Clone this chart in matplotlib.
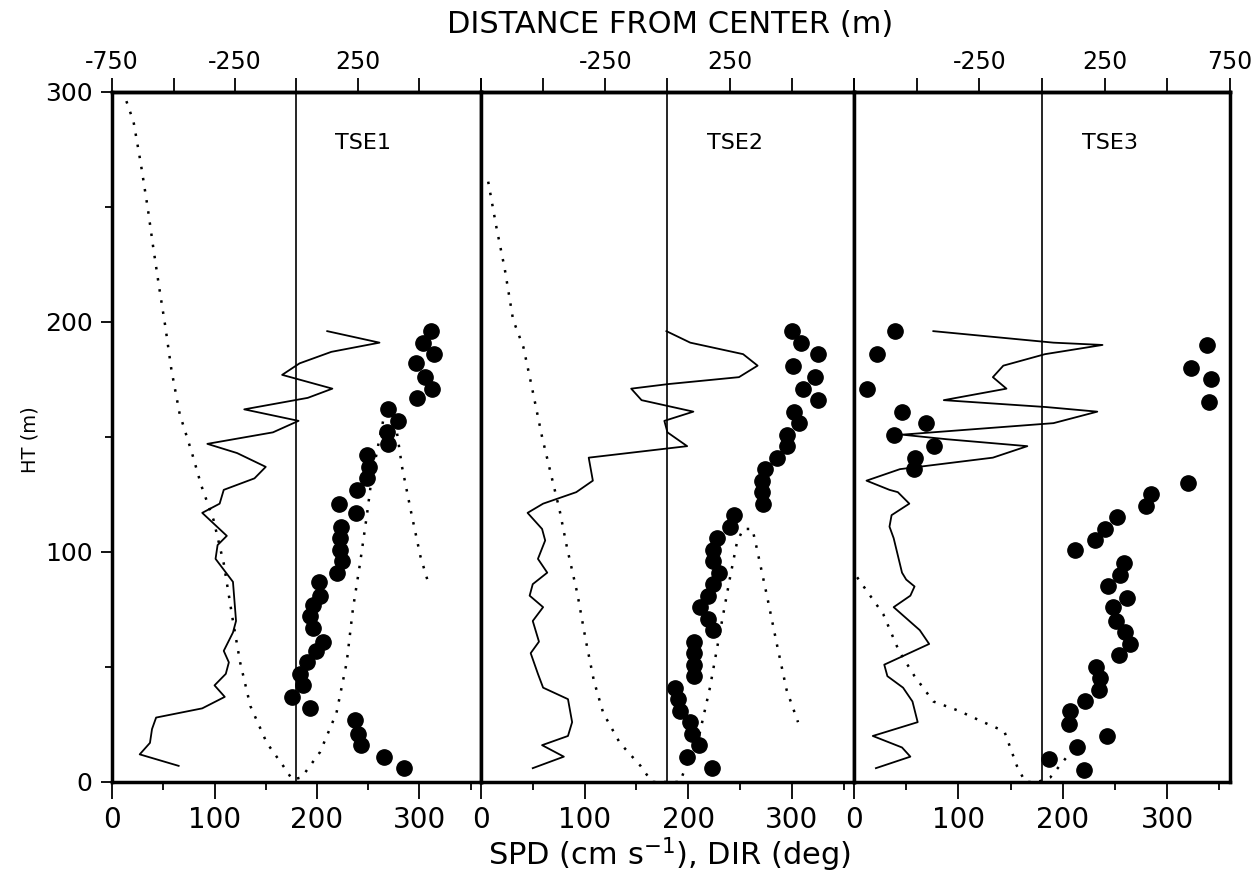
import numpy as np
import matplotlib
matplotlib.use("Agg")
import matplotlib.pyplot as plt

plt.rcParams['font.family'] = ['DejaVu Sans']

# TSE1
tse1_line_x = [210, 261, 214, 183, 166, 215, 191, 129, 182, 157, 93, 122, 150, 139, 109, 105, 88, 112,
               103, 101, 118, 121, 118, 109, 114, 111, 100, 110, 88, 43, 39, 37, 27, 65]
tse1_line_h = [196, 191, 187, 182, 177, 171, 167, 162, 157, 152, 147, 143, 137, 132, 127, 121, 117, 107,
               103, 97, 87, 70, 65, 57, 52, 47, 42, 37, 32, 28, 23, 17, 12, 7]
tse1_dot_x = [311, 303, 314, 297, 305, 312, 298, 269, 279, 268, 269, 249, 251, 249, 239, 221, 238, 223,
              222, 222, 224, 220, 202, 203, 196, 193, 196, 206, 199, 190, 183, 186, 176, 193, 237, 240,
              243, 265, 285]
tse1_dot_h = [196, 191, 186, 182, 176, 171, 167, 162, 157, 152, 147, 142, 137, 132, 127, 121, 117, 111,
              106, 101, 96, 91, 87, 81, 77, 72, 67, 61, 57, 52, 47, 42, 37, 32, 27, 21, 16, 11, 6]
tse1_curve_x = [14, 21, 28, 35, 40, 46, 52, 58, 66, 78, 87, 99, 109, 118, 125, 135, 151, 167, 176, 185,
                203, 219, 229, 235, 242, 249, 253, 260, 265, 270, 278, 283, 292, 301, 309]
tse1_curve_h = [296, 287, 269, 249, 233, 215, 198, 179, 160, 143, 129, 114, 95, 70, 52, 33, 17, 7, 1, 2,
                13, 30, 52, 75, 95, 117, 131, 147, 158, 160, 152, 137, 117, 98, 86]

# TSE2
tse2_line_x = [179, 202, 253, 267, 249, 181, 145, 155, 205, 177, 180, 199, 104, 108, 92, 60, 45, 59, 62,
               55, 64, 50, 47, 60, 50, 56, 48, 55, 60, 84, 88, 84, 59, 80, 50]
tse2_line_h = [196, 191, 186, 181, 176, 173, 171, 166, 161, 157, 152, 146, 141, 131, 126, 121, 117, 110,
               105, 97, 91, 86, 81, 76, 70, 61, 56, 47, 41, 36, 26, 20, 16, 11, 6]
tse2_dot_x = [300, 309, 325, 301, 322, 311, 325, 302, 307, 295, 295, 286, 274, 271, 271, 272, 244, 240,
              228, 224, 224, 230, 224, 219, 211, 219, 224, 206, 206, 206, 206, 187, 190, 192, 202, 204,
              210, 199, 223]
tse2_dot_h = [196, 191, 186, 181, 176, 171, 166, 161, 156, 151, 146, 141, 136, 131, 126, 121, 116, 111,
              106, 101, 96, 91, 86, 81, 76, 71, 66, 61, 56, 51, 46, 41, 36, 31, 26, 21, 16, 11, 6]
tse2_curve_x = [7, 15, 23, 31, 41, 49, 59, 68, 76, 83, 93, 101, 109, 118, 134, 154, 165, 175, 192, 199,
                211, 221, 231, 240, 247, 253, 262, 266, 276, 286, 295, 306]
tse2_curve_h = [261, 241, 223, 201, 189, 172, 150, 133, 118, 102, 82, 62, 44, 30, 17, 7, 0, 0, 0, 8,
                21, 41, 66, 88, 104, 110, 110, 102, 81, 59, 40, 26]

# TSE3
tse3_line_x = [76, 191, 238, 183, 143, 133, 146, 86, 184, 233, 191, 46, 89, 166, 133, 44, 12, 34, 42, 53,
               36, 34, 38, 46, 50, 58, 54, 38, 63, 72, 29, 32, 47, 56, 61, 18, 46, 54, 21]
tse3_line_h = [196, 191, 190, 186, 181, 176, 171, 166, 163, 161, 156, 151, 149, 146, 141, 136, 131, 127,
               126, 121, 116, 111, 106, 91, 88, 85, 81, 76, 66, 60, 51, 46, 41, 35, 26, 20, 15, 11, 6]
tse3_dot_x = [39, 22, 12, 46, 69, 38, 77, 58, 57,
              338, 323, 342, 340, 320, 284, 280, 252, 240, 231, 212, 259, 255, 243, 261, 248, 251, 260,
              264, 254, 232, 236, 235, 221, 207, 206, 242, 214, 187, 220]
tse3_dot_h = [196, 186, 171, 161, 156, 151, 146, 141, 136,
              190, 180, 175, 165, 130, 125, 120, 115, 110, 105, 101, 95, 90, 85, 80, 76, 70, 65, 60, 55,
              50, 45, 40, 35, 31, 25, 20, 15, 10, 5]
tse3_curve_x = [3, 28, 43, 58, 76, 100, 124, 144, 148, 156, 164, 176, 188, 204, 221]
tse3_curve_h = [89, 73, 57, 46, 35, 31, 26, 22, 17, 7, 0, 0, 2, 11, 21]

names = ['TSE1', 'TSE2', 'TSE3']
top_labels = [['-750', '', '-250', '', '250', '', ''],
              ['', '', '-250', '', '250', '', ''],
              ['', '', '-250', '', '250', '', '750']]

panels = [
    (tse1_line_x, tse1_line_h, tse1_dot_x, tse1_dot_h, tse1_curve_x, tse1_curve_h),
    (tse2_line_x, tse2_line_h, tse2_dot_x, tse2_dot_h, tse2_curve_x, tse2_curve_h),
    (tse3_line_x, tse3_line_h, tse3_dot_x, tse3_dot_h, tse3_curve_x, tse3_curve_h),
]

fig = plt.figure(figsize=(12.59, 8.74), dpi=100)
lefts = [0.0890, 0.3820, 0.6783]
widths = [0.2930, 0.2963, 0.2986]
bottom, height = 0.1053, 0.7895


def to_dist(x):
    return (x - 180.0) * 750.0 / 180.0


def to_spd(d):
    return d * 180.0 / 750.0 + 180.0


for i, (lx, lh, dx, dh, cx, ch) in enumerate(panels):
    ax = fig.add_axes([lefts[i], bottom, widths[i], height])
    ax.plot(lx, lh, color='black', lw=1.3, zorder=3)
    ax.plot(cx, ch, color='black', lw=1.8, linestyle=(0, (1, 3.5)), zorder=2)
    ax.plot(dx, dh, 'o', color='black', markersize=11, zorder=4)
    ax.axvline(180, color='black', lw=1.2, zorder=1)
    ax.text(245, 278, names[i], ha='center', va='center', fontsize=16)

    ax.set_xlim(0, 360)
    ax.set_ylim(0, 300)
    for s in ax.spines.values():
        s.set_linewidth(2.5)

    ax.set_xticks([0, 100, 200, 300])
    ax.set_xticks([50, 150, 250, 350], minor=True)
    ax.tick_params(axis='x', which='major', direction='out', length=12, width=1.3,
                   labelsize=20, pad=5)
    ax.tick_params(axis='x', which='minor', direction='out', length=6, width=1.3)

    if i == 0:
        ax.set_yticks([0, 100, 200, 300])
        ax.set_yticks([50, 150, 250], minor=True)
        ax.tick_params(axis='y', which='major', direction='out', length=8, width=1.3,
                       labelsize=18, pad=6)
        ax.tick_params(axis='y', which='minor', direction='out', length=5, width=1.3)
    else:
        ax.set_yticks([])

    top = ax.secondary_xaxis('top', functions=(to_dist, to_spd))
    top.set_xticks([-750, -500, -250, 0, 250, 500, 750])
    top.set_xticklabels(top_labels[i])
    top.tick_params(direction='out', length=10, width=1.3, labelsize=17, pad=3)
    top.spines['top'].set_linewidth(2.5)

fig.text(0.532, 0.972, 'DISTANCE FROM CENTER (m)', ha='center', va='center', fontsize=22)
fig.text(0.532, 0.022, 'SPD (cm s$^{-1}$), DIR (deg)', ha='center', va='center', fontsize=22)
fig.text(0.024, 0.497, 'HT (m)', ha='center', va='center', rotation=90, fontsize=14)

fig.savefig('out.png', dpi=100)
